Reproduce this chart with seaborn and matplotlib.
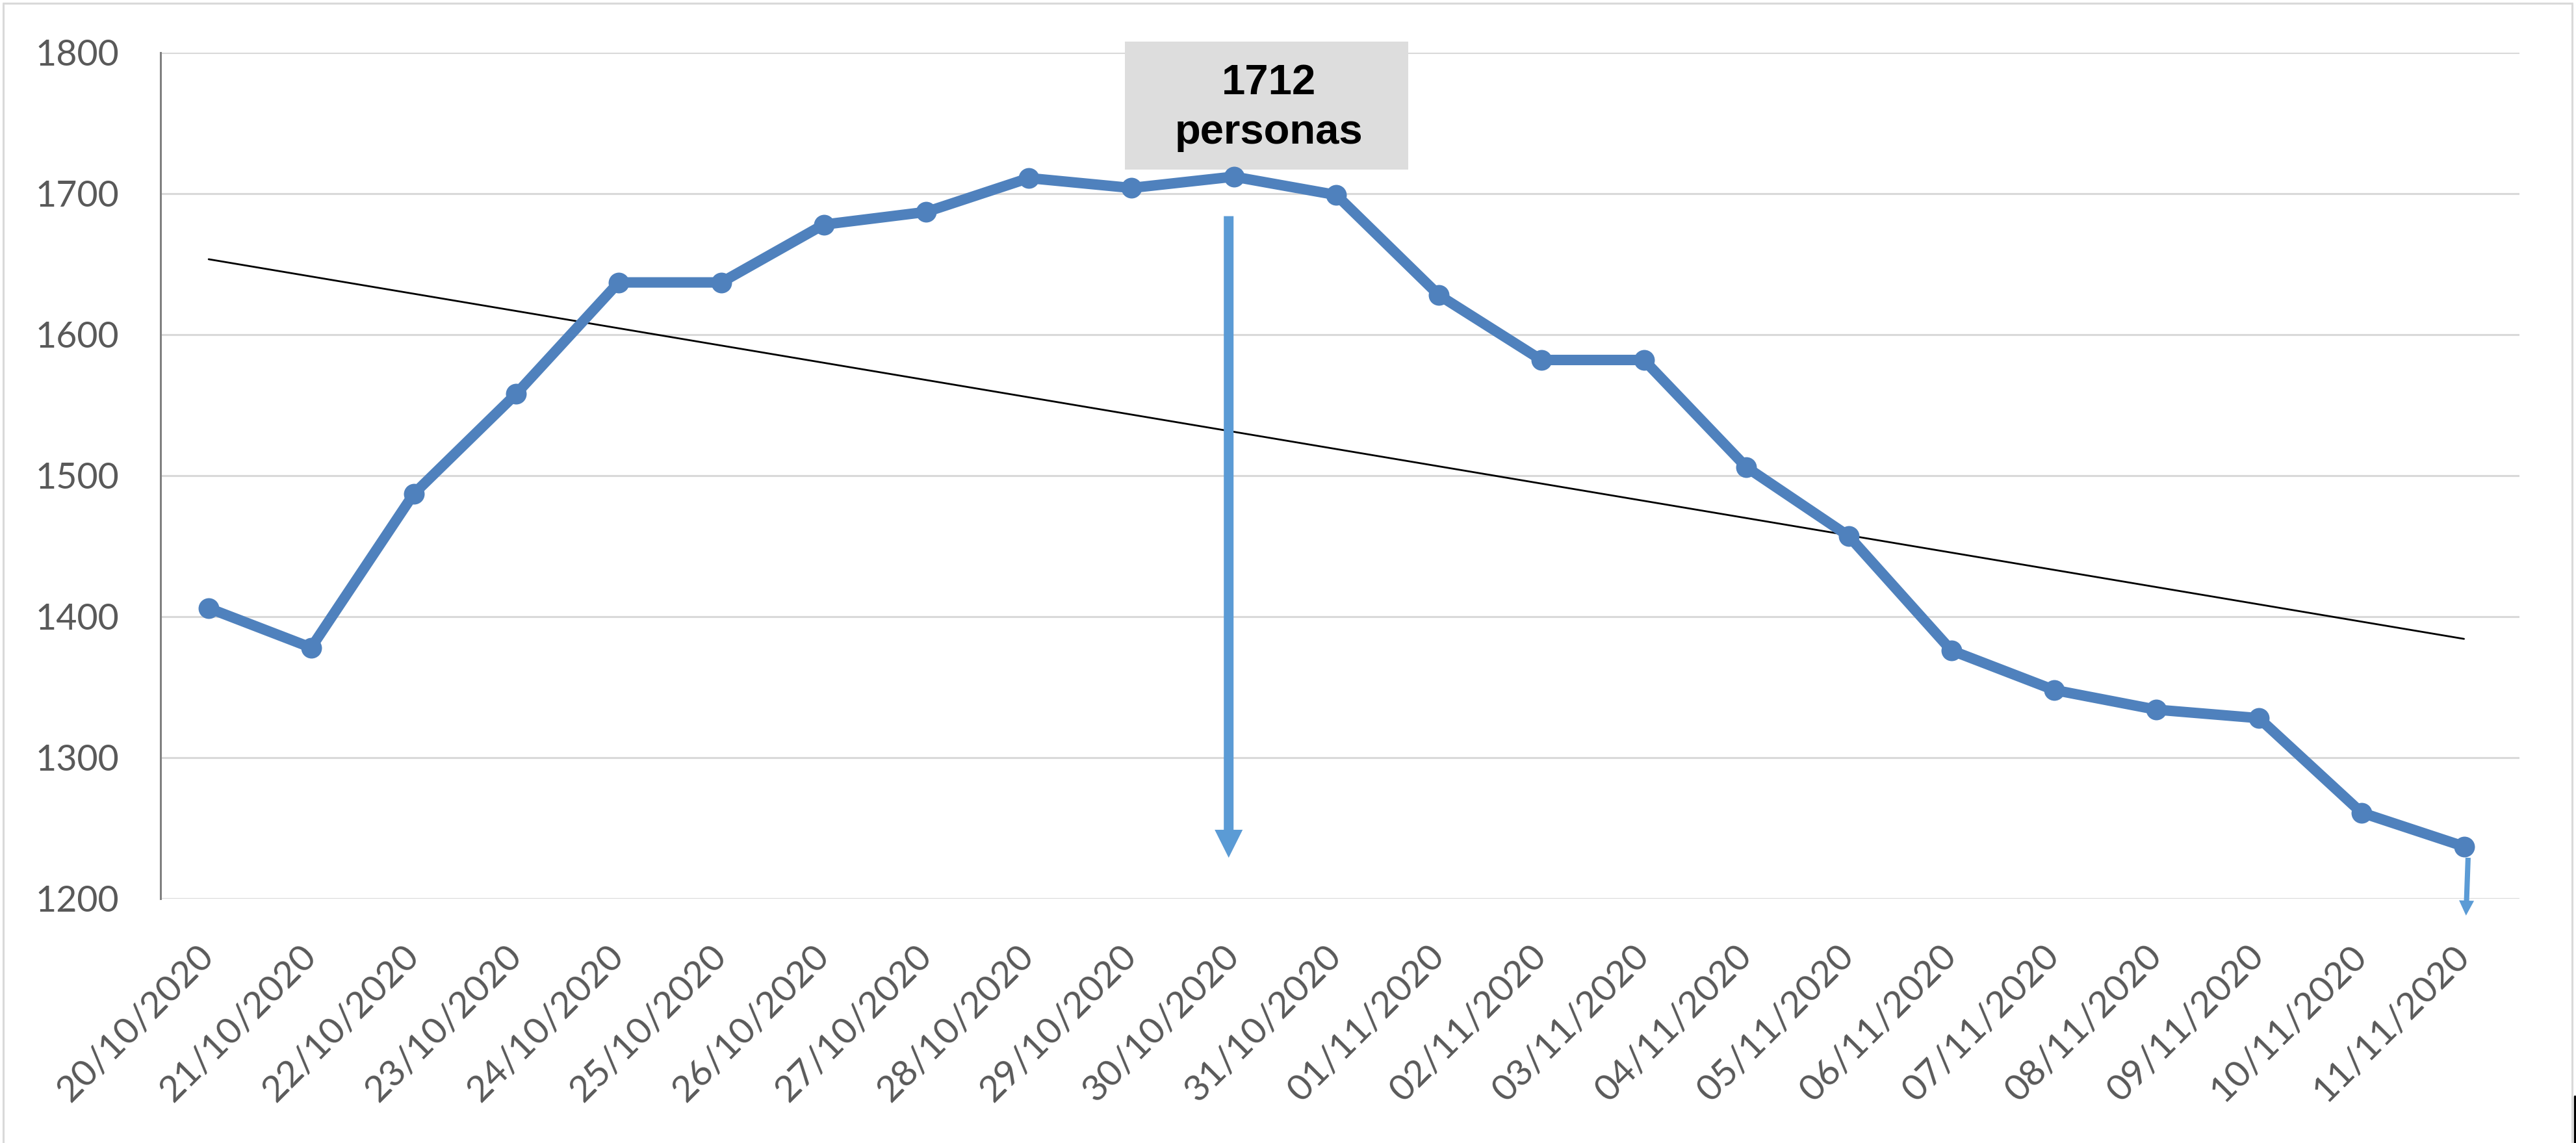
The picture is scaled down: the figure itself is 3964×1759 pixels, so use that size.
import numpy as np
import pandas as pd
import seaborn as sns
import matplotlib.pyplot as plt
from matplotlib.patches import Rectangle, FancyArrowPatch
from matplotlib.lines import Line2D

# values
dates = ["20/10/2020", "21/10/2020", "22/10/2020", "23/10/2020", "24/10/2020",
         "25/10/2020", "26/10/2020", "27/10/2020", "28/10/2020", "29/10/2020",
         "30/10/2020", "31/10/2020", "01/11/2020", "02/11/2020", "03/11/2020",
         "04/11/2020", "05/11/2020", "06/11/2020", "07/11/2020", "08/11/2020",
         "09/11/2020", "10/11/2020", "11/11/2020"]
personas = [1406, 1378, 1487, 1558, 1637, 1637, 1678, 1687, 1711, 1704,
            1712, 1699, 1628, 1582, 1582, 1506, 1457, 1376, 1348, 1334,
            1328, 1261, 1237]
y_ticks = [1200, 1300, 1400, 1500, 1600, 1700, 1800]
peak_label = "1712\npersonas"

df = pd.DataFrame({"idx": np.arange(len(dates)), "personas": personas})

sns.set_style("white")
plt.rcParams["font.family"] = ["Lato", "DejaVu Sans"]

line_blue = "#4F81BD"
arrow_blue = "#5B9BD5"
grid_gray = "#D9D9D9"
text_gray = "#595959"

fig = plt.figure(figsize=(19.82, 8.795), dpi=200)
ax = fig.add_axes([0.0623, 0.2138, 0.978 - 0.0623, 0.954 - 0.2138])

# horizontal gridlines
for t in y_ticks:
    ax.axhline(t, color=grid_gray, lw=1.1, zorder=0)

# linear trend
sns.regplot(data=df, x="idx", y="personas", scatter=False, ci=None, truncate=True,
            color="black", line_kws={"lw": 1.0, "zorder": 2}, ax=ax)

# main series
sns.lineplot(data=df, x="idx", y="personas", color=line_blue, lw=5.8,
             marker="o", markersize=11.5, markeredgewidth=0, zorder=4, ax=ax)

last = len(dates) - 1
ax.set_xlim(-0.47, last + 0.54)
ax.set_ylim(1200, 1800)
ax.set_yticks(y_ticks)
ax.set_xticks(df["idx"])
ax.set_xticklabels(dates, rotation=45, ha="right", va="center", rotation_mode="anchor")
ax.set_xlabel("")
ax.set_ylabel("")
ax.tick_params(axis="y", length=0, pad=23, labelsize=20, labelcolor=text_gray)
ax.tick_params(axis="x", length=0, pad=29, labelsize=20.5, labelcolor=text_gray)

for s in ["top", "right", "bottom"]:
    ax.spines[s].set_visible(False)
ax.spines["left"].set_color("#808080")
ax.spines["left"].set_linewidth(1.1)

# peak annotation box
ax.add_patch(Rectangle((8.94, 1717), 2.76, 91, facecolor="#DDDDDD", edgecolor="none",
                       zorder=3, clip_on=False))
top_line, bottom_line = peak_label.split("\n")
for txt, yv in [(top_line, 1770.5), (bottom_line, 1735.5)]:
    ax.text(10.34, yv, txt, ha="center", va="baseline", color="black",
            fontsize=23.5, fontweight="bold", family=["Liberation Sans", "DejaVu Sans"],
            zorder=5, clip_on=False)

# arrows
big = FancyArrowPatch((9.95, 1684), (9.95, 1229),
                      arrowstyle="simple,head_length=15.5,head_width=15.5,tail_width=5.4",
                      mutation_scale=1, color=arrow_blue, lw=0, shrinkA=0, shrinkB=0,
                      zorder=5, clip_on=False)
ax.add_patch(big)
small = FancyArrowPatch((last + 0.04, 1229), (last + 0.02, 1188),
                        arrowstyle="simple,head_length=8.3,head_width=8.3,tail_width=2.9",
                        mutation_scale=1, color=arrow_blue, lw=0, shrinkA=0, shrinkB=0,
                        zorder=5, clip_on=False)
ax.add_patch(small)

# outer frame of the pasted image
for xs, ys in [([0.0013, 0.0013], [0, 0.9972]), ([0.0013, 0.9985], [0.9972, 0.9972]),
               ([0.9985, 0.9985], [0, 0.9972])]:
    fig.add_artist(Line2D(xs, ys, color=grid_gray, lw=1.1, transform=fig.transFigure))
fig.add_artist(Line2D([0.9996, 0.9996], [0, 0.041], color="black", lw=1.2,
                      transform=fig.transFigure))

plt.savefig("out.png", dpi=200)
